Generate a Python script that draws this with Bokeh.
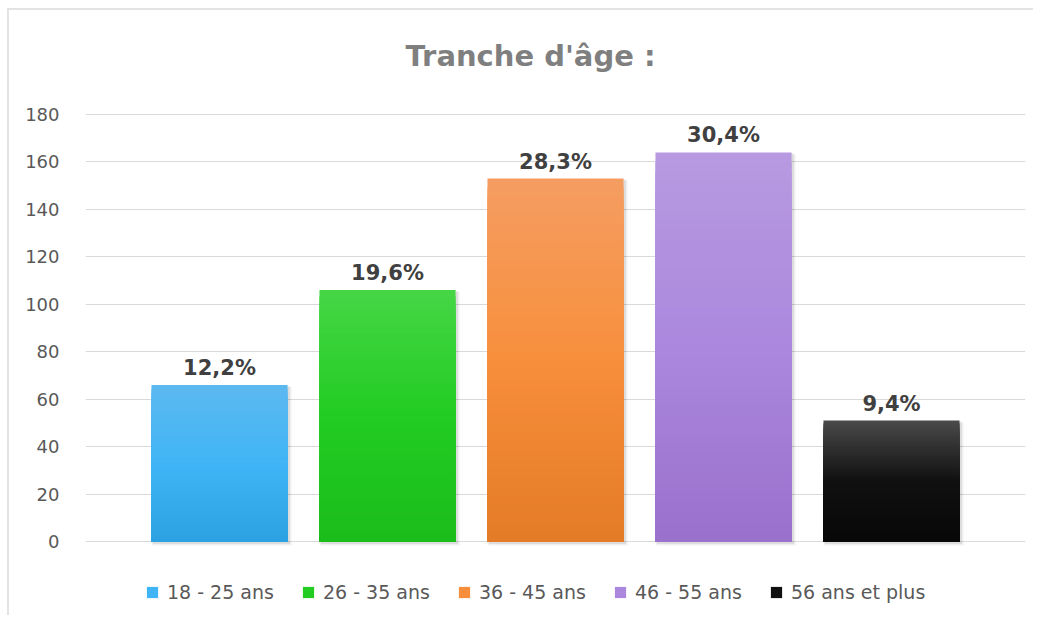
import numpy as np
from bokeh.plotting import figure
from bokeh.models import ColumnDataSource, Range1d, Legend, LegendItem, FixedTicker
from bokeh.embed import file_html
from bokeh.resources import INLINE
from bokeh.core.properties import value

# ---- data ----
categories = ["18 - 25 ans", "26 - 35 ans", "36 - 45 ans", "46 - 55 ans", "56 ans et plus"]
counts = [66, 106, 153, 164, 51]
y_ticks = [0, 20, 40, 60, 80, 100, 120, 140, 160, 180]
title_text = "Tranche d'âge :"

# ---- styles ----
grad_top = ["#5db9f0", "#46d646", "#f59d62", "#b79ae1", "#4a4a4a"]
grad_mid = ["#40b5f5", "#22cc22", "#f78f3c", "#ab88dd", "#101010"]
grad_bot = ["#2ba2e2", "#1bbd1b", "#e47a25", "#9a70cc", "#080808"]
FONT = "DejaVu Sans"

# page placement: chart box content starts at (9, 10); a 2px light edge drawn on top/left
OFF_X, OFF_Y = 9, 10
W, H = 1035 - OFF_X, 617 - OFF_Y
MB_LEFT, MB_RIGHT = 85 - OFF_X, 10
MB_TOP, MB_BOTTOM = 0, 10
frame_h = H - MB_TOP - MB_BOTTOM
frame_w = W - MB_LEFT - MB_RIGHT
px_per_unit = 427.0 / 180.0          # value axis scale (0..180 spans 427 px)
top_val = y_ticks[-1]
y_end = top_val + (114 - (OFF_Y + MB_TOP)) / px_per_unit   # room above for the title
y_start = y_end - frame_h / px_per_unit                     # room below 0 for the legend
x_half = frame_w / 168.0 / 2.0            # 168 px per bar slot
x_center = (len(categories) - 1) / 2.0


def hex2rgb(h):
    h = h.lstrip("#")
    return np.array([int(h[i:i + 2], 16) for i in (0, 2, 4)], dtype=float)


def rgb2hex(c):
    return "#%02x%02x%02x" % tuple(int(round(v)) for v in c)


def grad_color(t, bot, mid, top):
    b, m, tp = hex2rgb(bot), hex2rgb(mid), hex2rgb(top)
    if t < 0.5:
        return rgb2hex(b + (m - b) * (t / 0.5))
    return rgb2hex(m + (tp - m) * ((t - 0.5) / 0.5))


p = figure(
    width=W, height=H,
    output_backend="svg", toolbar_location=None,
    x_range=Range1d(x_center - x_half, x_center + x_half), y_range=Range1d(y_start, y_end),
    min_border_left=MB_LEFT, min_border_right=MB_RIGHT, min_border_top=MB_TOP, min_border_bottom=MB_BOTTOM,
    background_fill_color="white", border_fill_color="white",
    styles={"transform": f"translate({OFF_X}px, {OFF_Y}px)",
            "box-shadow": "-2px -2px 0px 0px #e3e3e3"},
)
p.outline_line_color = None

p.xaxis.visible = False
p.xgrid.grid_line_color = None
p.ygrid.grid_line_color = "#d9d9d9"
p.ygrid.grid_line_width = 1
p.ygrid.ticker = FixedTicker(ticks=y_ticks)
p.yaxis.ticker = FixedTicker(ticks=y_ticks)
p.yaxis.axis_line_color = None
p.yaxis.major_tick_line_color = None
p.yaxis.minor_tick_line_color = None
p.yaxis.major_label_text_font = FONT
p.yaxis.major_label_text_font_size = "18px"
p.yaxis.major_label_text_color = "#595959"
p.yaxis.major_label_standoff = 20

# title (drawn inside the enlarged frame, above the top gridline)
p.text(x=[x_center], y=[top_val], text=[title_text], text_align="center",
       text_baseline="alphabetic", x_offset=-25, y_offset=-59,
       text_font=value(FONT), text_font_style="bold", text_font_size="29px",
       text_color="#7f7f7f")

bar_w = 0.81
px_x = 1.0 / 168.0
px_y = 1.0 / px_per_unit
N = 40
items = []
total = sum(counts)

# soft shadows
for (dx0, dx1, dy0, dy1, a) in [(1, 4, 4, 2, 0.06), (1, 2.5, 2.5, 1, 0.08)]:
    p.quad(left=[i - bar_w / 2 + dx0 * px_x for i in range(len(counts))],
           right=[i + bar_w / 2 + dx1 * px_x for i in range(len(counts))],
           bottom=[-dy0 * px_y] * len(counts),
           top=[v - dy1 * px_y for v in counts],
           fill_color="black", fill_alpha=a, line_color=None)

for i, (cat, v) in enumerate(zip(categories, counts)):
    edges = np.linspace(0, v, N + 1)
    tops = edges[1:][::-1]                     # tallest first, shorter drawn over it
    ts = ((np.arange(N) + 0.5) / N)[::-1]
    cols = [grad_color(t, grad_bot[i], grad_mid[i], grad_top[i]) for t in ts]
    src = ColumnDataSource(dict(
        left=[i - bar_w / 2] * N, right=[i + bar_w / 2] * N,
        bottom=[0] * N, top=tops, color=cols,
    ))
    r = p.quad(left="left", right="right", bottom="bottom", top="top", source=src,
               fill_color="color", line_color=None)
    items.append(LegendItem(label=cat, renderers=[r], index=N // 2))

labels = [("%.1f%%" % (v / total * 100)).replace(".", ",") for v in counts]
lsrc = ColumnDataSource(dict(x=list(range(len(counts))), y=counts, t=labels))
p.text(x="x", y="y", text="t", source=lsrc, text_align="center", text_baseline="bottom",
       y_offset=-5, text_font=value(FONT), text_font_style="bold", text_font_size="21px",
       text_color="#404040")

legend = Legend(items=items, orientation="horizontal", location=(60, 4),
                glyph_width=14, glyph_height=14, label_standoff=8, label_width=134,
                spacing=0, padding=4, margin=0, border_line_color=None, background_fill_alpha=0,
                label_text_font=FONT, label_text_font_size="19px", label_text_color="#595959")
p.add_layout(legend, "center")

open("out.html", "w").write(file_html(p, INLINE))
